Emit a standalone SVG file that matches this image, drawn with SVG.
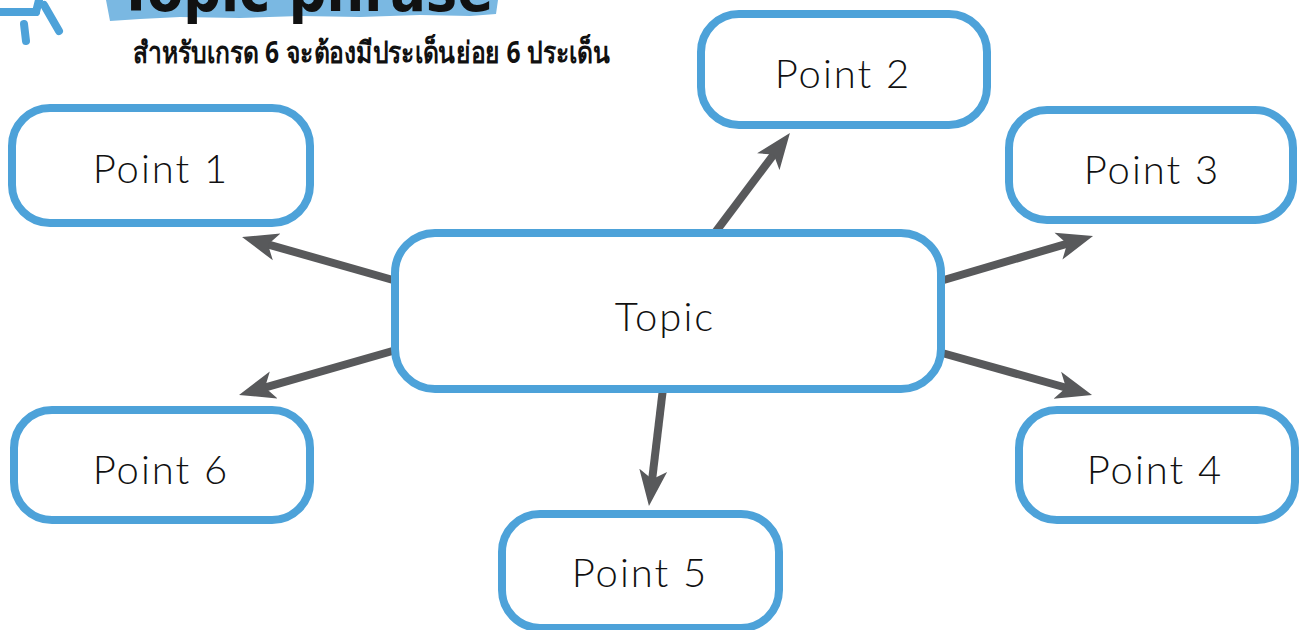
<svg xmlns="http://www.w3.org/2000/svg" width="1303" height="630" viewBox="0 0 1303 630">
<style>
.box{fill:#ffffff;stroke:#4DA2D9;stroke-width:8}
.lbl{font-family:Lato,"Open Sans",sans-serif;font-weight:300;font-size:40px;fill:#111;text-anchor:middle;letter-spacing:2px}
.conn{stroke:#58595B;stroke-width:8;fill:none}
.deco{stroke:#4DA2D9;stroke-width:8;stroke-linecap:round;fill:none}
</style>
<defs>
<marker id="ah" markerUnits="userSpaceOnUse" markerWidth="36" markerHeight="30" viewBox="0 0 36 30" refX="12" refY="15" orient="auto">
<path d="M36,15 L0,1 L9,15 L0,29 Z" fill="#58595B"/>
</marker>
</defs>
<g id="header">
<path d="M106,0 L498,0 L496,14 L470,16 L420,15 L360,17 L300,16 L240,18 L180,17 L140,19 L110,21 Z" fill="#7AB8E2"/>
<text x="118" y="11" font-family="'DejaVu Sans',sans-serif" font-weight="bold" font-size="60" fill="#111" textLength="375" lengthAdjust="spacingAndGlyphs">Topic phrase</text>
<line class="deco" x1="-4" y1="12" x2="36" y2="12"/>
<line class="deco" x1="36" y1="12" x2="40" y2="-4"/>
<line class="deco" x1="44" y1="5" x2="59" y2="31"/>
<line class="deco" x1="24" y1="24" x2="26" y2="41"/>
<text x="133" y="63" font-family="'Noto Sans','DejaVu Sans',sans-serif" font-weight="bold" font-size="30" fill="#111" textLength="477" lengthAdjust="spacingAndGlyphs">สำหรับเกรด 6 จะต้องมีประเด็นย่อย 6 ประเด็น</text>
</g>
<g id="connectors">
<line class="conn" x1="400" y1="282" x2="265.1" y2="243.6" marker-end="url(#ah)"/>
<line class="conn" x1="396" y1="350" x2="262.1" y2="388.3" marker-end="url(#ah)"/>
<line class="conn" x1="714" y1="234" x2="775.5" y2="152.1" marker-end="url(#ah)"/>
<line class="conn" x1="937" y1="282" x2="1070" y2="242.8" marker-end="url(#ah)"/>
<line class="conn" x1="935" y1="351" x2="1068.9" y2="388.5" marker-end="url(#ah)"/>
<line class="conn" x1="664" y1="380" x2="651.8" y2="482.2" marker-end="url(#ah)"/>
</g>
<g id="topic">
<rect class="box" x="395" y="233" width="546" height="156" rx="40"/>
<text class="lbl" x="665" y="331" font-size="46" letter-spacing="3">Topic</text>
</g>
<g id="point1">
<rect class="box" x="12" y="108" width="298" height="115" rx="38"/>
<text class="lbl" x="161" y="183">Point 1</text>
</g>
<g id="point2">
<rect class="box" x="701" y="14" width="286" height="111" rx="38"/>
<text class="lbl" x="843" y="88">Point 2</text>
</g>
<g id="point3">
<rect class="box" x="1009" y="110" width="284" height="110" rx="38"/>
<text class="lbl" x="1152" y="184">Point 3</text>
</g>
<g id="point4">
<rect class="box" x="1019" y="410" width="276" height="110" rx="38"/>
<text class="lbl" x="1155" y="484">Point 4</text>
</g>
<g id="point5">
<rect class="box" x="502" y="514" width="277" height="114" rx="38"/>
<text class="lbl" x="640" y="587">Point 5</text>
</g>
<g id="point6">
<rect class="box" x="14" y="410" width="296" height="110" rx="38"/>
<text class="lbl" x="161" y="484">Point 6</text>
</g>
</svg>
